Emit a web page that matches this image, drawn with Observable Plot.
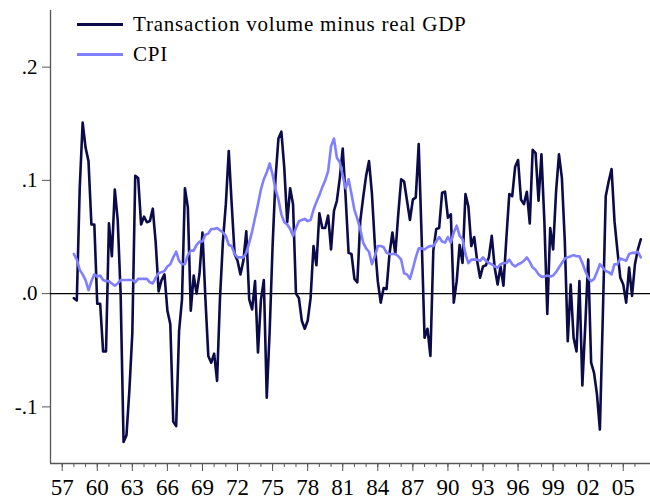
<!DOCTYPE html>
<html>
<head>
<meta charset="utf-8">
<script src="https://cdn.jsdelivr.net/npm/d3@7"></script>
<script src="https://cdn.jsdelivr.net/npm/@observablehq/plot@0.6"></script>
<style>
  html, body { margin: 0; padding: 0; background: #fff; }
  #wrap { position: relative; width: 650px; height: 500px; font-family: "Liberation Serif", "Times New Roman", serif; }
  #legend { position: absolute; left: 77px; top: 9px; font-size: 21px; letter-spacing: 0.8px; color: #000; }
  .item { display: flex; align-items: center; height: 30px; }
  .sw { width: 46px; height: 0; border-top: 3px solid; margin-right: 10px; }
</style>
</head>
<body>
<div id="wrap"><div id="legend"></div></div>
<script>
// Quarterly data, starting 1958Q1
const startYear = 1958;
const seriesNames = ["Transaction volume minus real GDP", "CPI"];
const seriesColors = ["#0b0b4a", "#7f7fff"];

const volume = [
 -0.004,-0.006,0.093,0.151,0.129,0.117,0.061,0.061,-0.009,-0.009,
 -0.051,-0.051,0.062,0.033,0.092,0.065,0.000,-0.131,-0.125,-0.085,
 -0.035,0.104,0.102,0.061,0.068,0.063,0.064,0.075,0.045,0.002,
 0.012,0.017,-0.015,-0.027,-0.113,-0.117,-0.033,-0.005,0.093,0.076,
 -0.015,0.016,0.000,0.018,0.054,-0.004,-0.055,-0.061,-0.053,-0.077,
 -0.004,0.046,0.079,0.126,0.079,0.035,0.029,0.017,0.029,0.055,
 -0.005,-0.014,0.011,-0.052,-0.006,0.012,-0.092,-0.033,0.042,0.102,
 0.137,0.143,0.111,0.063,0.093,0.079,0.000,-0.004,-0.024,-0.031,
 -0.024,-0.004,0.042,0.025,0.071,0.058,0.058,0.069,0.039,0.073,
 0.082,0.102,0.128,0.085,0.036,0.035,0.013,0.010,0.064,0.085,
 0.104,0.117,0.088,0.043,0.011,-0.008,0.005,0.004,0.035,0.054,
 0.035,0.070,0.101,0.099,0.082,0.065,0.083,0.085,0.132,0.050,
 -0.039,-0.031,-0.055,0.038,0.057,0.058,0.089,0.090,0.067,0.070,
 -0.008,0.011,0.043,0.027,0.088,0.077,0.042,0.050,0.029,0.014,
 0.024,0.025,0.032,0.051,0.023,0.008,0.024,0.007,0.049,0.088,
 0.086,0.112,0.118,0.083,0.079,0.090,0.062,0.127,0.124,0.082,
 0.123,0.064,-0.018,0.058,0.039,0.090,0.123,0.102,0.046,-0.042,
 0.008,-0.039,-0.051,0.011,-0.081,-0.028,0.030,-0.061,-0.070,-0.089,
 -0.120,-0.020,0.086,0.099,0.110,0.064,0.038,0.014,0.008,-0.008,
 0.023,-0.002,0.026,0.039,0.048
];

const cpi = [
 0.035,0.030,0.021,0.017,0.012,0.003,0.011,0.017,0.015,0.016,
 0.012,0.011,0.011,0.009,0.007,0.009,0.012,0.012,0.012,0.012,
 0.012,0.010,0.013,0.013,0.013,0.013,0.010,0.009,0.014,0.018,
 0.019,0.020,0.024,0.026,0.032,0.037,0.029,0.026,0.026,0.034,
 0.038,0.038,0.043,0.046,0.046,0.052,0.053,0.057,0.057,0.058,
 0.056,0.054,0.051,0.043,0.042,0.035,0.032,0.032,0.032,0.036,
 0.045,0.055,0.067,0.079,0.092,0.101,0.107,0.115,0.105,0.092,
 0.083,0.070,0.063,0.061,0.057,0.051,0.058,0.064,0.065,0.066,
 0.064,0.065,0.074,0.081,0.087,0.094,0.100,0.108,0.130,0.137,
 0.120,0.116,0.104,0.093,0.101,0.088,0.074,0.066,0.057,0.045,
 0.040,0.037,0.026,0.033,0.042,0.042,0.041,0.036,0.035,0.035,
 0.035,0.033,0.030,0.018,0.017,0.013,0.022,0.032,0.040,0.040,
 0.039,0.041,0.042,0.042,0.046,0.050,0.046,0.045,0.050,0.045,
 0.054,0.060,0.051,0.048,0.035,0.027,0.030,0.030,0.030,0.029,
 0.032,0.029,0.027,0.026,0.024,0.023,0.026,0.027,0.027,0.030,
 0.026,0.024,0.026,0.027,0.029,0.032,0.028,0.023,0.021,0.017,
 0.015,0.015,0.016,0.015,0.016,0.019,0.023,0.027,0.031,0.032,
 0.033,0.034,0.033,0.033,0.027,0.020,0.014,0.011,0.013,0.019,
 0.026,0.023,0.020,0.019,0.017,0.026,0.026,0.031,0.030,0.029,
 0.035,0.036,0.036,0.037,0.032
];

const yTicks = [-0.1, 0, 0.1, 0.2];
const yTickLabels = ["-.1", ".0", ".1", ".2"];
const xMajorTicks = [1957,1960,1963,1966,1969,1972,1975,1978,1981,1984,1987,1990,1993,1996,1999,2002,2005];
const xMajorLabels = ["57","60","63","66","69","72","75","78","81","84","87","90","93","96","99","02","05"];
const xMinorTicks = d3.range(1957, 2007);

const rows = volume.map((v, i) => ({date: startYear + i / 4, volume: v, cpi: cpi[i]}));
const yLab = new Map(yTicks.map((t, i) => [t, yTickLabels[i]]));
const xLab = new Map(xMajorTicks.map((t, i) => [t, xMajorLabels[i]]));

const axisColor = "#555";
const xDomain = [1956.0, 2007.33];
const yDomain = [-0.15, 0.25];

const chart = Plot.plot({
  width: 650,
  height: 500,
  marginLeft: 50,
  marginRight: 0,
  marginTop: 10,
  marginBottom: 37,
  x: {domain: xDomain, axis: null},
  y: {domain: yDomain, axis: null},
  style: {fontFamily: '"Liberation Serif", "Times New Roman", serif', background: "#fff", color: "#000"},
  marks: [
    Plot.axisY(yTicks, {label: null, tickSize: 8, tickPadding: 5, fontSize: 21, stroke: axisColor, tickFormat: d => yLab.get(d), fill: "#000"}),
    Plot.axisX(xMinorTicks, {label: null, tickSize: 4, stroke: axisColor, tickFormat: () => ""}),
    Plot.axisX(xMajorTicks, {label: null, tickSize: 8, tickPadding: 7, fontSize: 23, stroke: axisColor, tickFormat: d => xLab.get(d), fill: "#000"}),
    Plot.ruleX([xDomain[0]], {stroke: axisColor, strokeWidth: 1.3}),
    Plot.ruleY([yDomain[0]], {stroke: axisColor, strokeWidth: 1.3}),
    Plot.ruleY([0], {stroke: "#000", strokeWidth: 1.2}),
    Plot.line(rows, {x: "date", y: "volume", stroke: seriesColors[0], strokeWidth: 2.6}),
    Plot.line(rows, {x: "date", y: "cpi", stroke: seriesColors[1], strokeWidth: 2.6})
  ]
});
document.getElementById("wrap").prepend(chart);

const legend = document.getElementById("legend");
seriesNames.forEach((name, i) => {
  const item = document.createElement("div");
  item.className = "item";
  const sw = document.createElement("span");
  sw.className = "sw";
  sw.style.borderTopColor = seriesColors[i];
  const lab = document.createElement("span");
  lab.textContent = name;
  item.append(sw, lab);
  legend.append(item);
});
</script>
</body>
</html>
